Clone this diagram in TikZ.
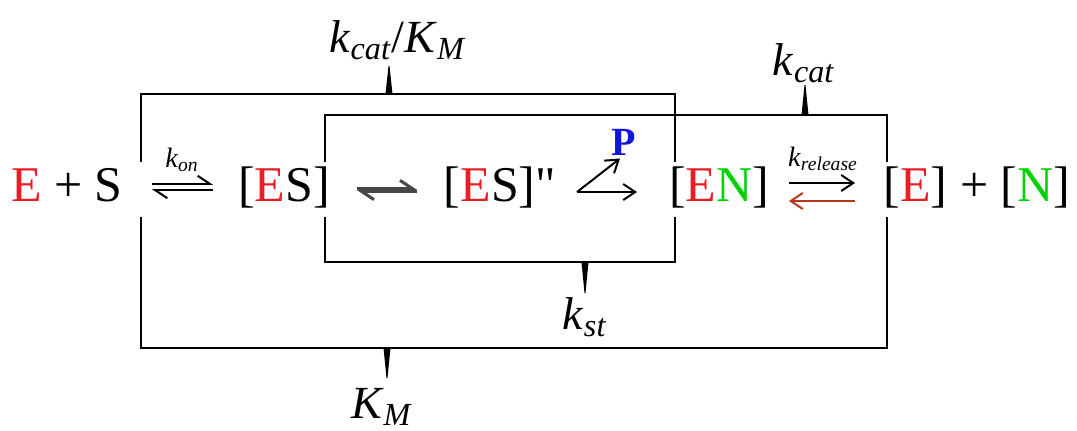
\documentclass[tikz,border=0pt]{standalone}
\usepackage{fontspec}
\setmainfont{Liberation Serif}
\newfontfamily\plainquote{Liberation Serif}
\usetikzlibrary{arrows.meta}
\definecolor{enzred}{RGB}{235,28,36}
\definecolor{nucgreen}{RGB}{0,210,0}
\definecolor{prodblue}{RGB}{20,20,225}
\definecolor{backred}{RGB}{185,55,25}
\newcommand{\rate}[2]{\textit{#1}\textsubscript{\textit{#2}}}

\begin{document}
\begin{tikzpicture}[x=0.5pt,y=-0.5pt,
    species/.style={anchor=base,inner sep=0pt,font=\fontsize{25}{29}\selectfont},
    biglabel/.style={anchor=base,inner sep=0pt,font=\fontsize{23}{27}\selectfont},
    smalllabel/.style={anchor=base,inner sep=0pt,font=\fontsize{14}{16}\selectfont},
    bracket/.style={line width=1.3pt},
    rxn/.style={line width=1pt,-{Straight Barb[length=6pt,width=8pt]}},
    harp/.style={line width=1pt,-{Straight Barb[harpoon,length=6pt,width=8pt]}}]
    \useasboundingbox (0,0) rectangle (1077,430);

    % Species along the reaction
    \node[species] (es0) at (67,201) {\textcolor{enzred}{E} + S};
    \node[species] (es1) at (284,201) {[\textcolor{enzred}{E}S]};
    \node[species] (es2) at (500,201) {[\textcolor{enzred}{E}S]{\plainquote"}};
    \node[species] (en) at (719,201) {[\textcolor{enzred}{E}\textcolor{nucgreen}{N}]};
    \node[species] (prod) at (977,201) {[\textcolor{enzred}{E}] + [\textcolor{nucgreen}{N}]};
    \node[anchor=base,inner sep=0pt,font=\fontsize{20}{24}\selectfont\bfseries,text=prodblue] (p) at (624,155) {P};

    % Binding equilibrium
    \coordinate (onL) at (152,187);
    \coordinate (onR) at (213,187);
    \draw[harp] ([yshift=1.6pt]onL) -- ([yshift=1.6pt]onR);
    \draw[harp] ([yshift=-1.6pt]onR) -- ([yshift=-1.6pt]onL);
    \node[smalllabel] (kon) at (182,167) {\rate{k}{on}};

    % Conformational step
    \coordinate (stL) at (357,190);
    \coordinate (stR) at (417,190);
    \draw[harp,line width=1.5pt,black!72] ([yshift=0.8pt]stL) -- ([yshift=0.8pt]stR);
    \draw[harp,line width=1.5pt,black!72] ([yshift=-0.8pt]stR) -- ([yshift=-0.8pt]stL);

    % Chemistry, P leaves
    \coordinate (br) at (577,192);
    \coordinate (brE) at (637,192);
    \draw[rxn,shorten >=2.5pt] (br) -- (p.south);
    \draw[rxn] (br) -- (brE);

    % Release of N
    \coordinate (rlL) at (789,192);
    \coordinate (rlR) at (855,192);
    \draw[rxn] ([yshift=4.5pt]rlL) -- ([yshift=4.5pt]rlR);
    \draw[rxn,backred] ([yshift=-4.5pt]rlR) -- ([yshift=-4.5pt]rlL);
    \node[smalllabel] (krel) at (823,166) {\rate{k}{release}};

    % Bracket ends above and below the row
    \coordinate (c1t) at (141,162); \coordinate (c1b) at (141,217);
    \coordinate (c2t) at (325,162); \coordinate (c2b) at (325,217);
    \coordinate (c3t) at (675,162); \coordinate (c3b) at (675,217);
    \coordinate (c4t) at (887,162); \coordinate (c4b) at (887,217);

    % Brackets
    \draw[bracket] (c1t) -- ++(0,-68) -| (c3t);
    \draw[bracket] (c2t) -- ++(0,-47) -| (c4t);
    \draw[bracket] (c2b) -- ++(0,45) -| (c3b);
    \draw[bracket] (c1b) -- ++(0,131) -| (c4b);

    % Constants and their ticks
    \node[biglabel] (kcm) at (398,52) {\rate{k}{cat}/\textit{K}\textsubscript{\textit{M}}};
    \node[biglabel] (kcat) at (804,75) {\rate{k}{cat}};
    \node[biglabel] (kst) at (585,329) {\rate{k}{st}};
    \node[biglabel] (km) at (382,418) {\rate{K}{M}};
    \fill (385.5,94) -- (388.5,66) -- (389.5,66) -- (392.5,94) -- cycle;
    \fill (801.5,115) -- (804.5,85) -- (805.5,85) -- (808.5,115) -- cycle;
    \fill (581.5,262) -- (584.5,293) -- (585.5,293) -- (588.5,262) -- cycle;
    \fill (383.5,348) -- (386.5,378) -- (387.5,378) -- (390.5,348) -- cycle;

\end{tikzpicture}
\end{document}
